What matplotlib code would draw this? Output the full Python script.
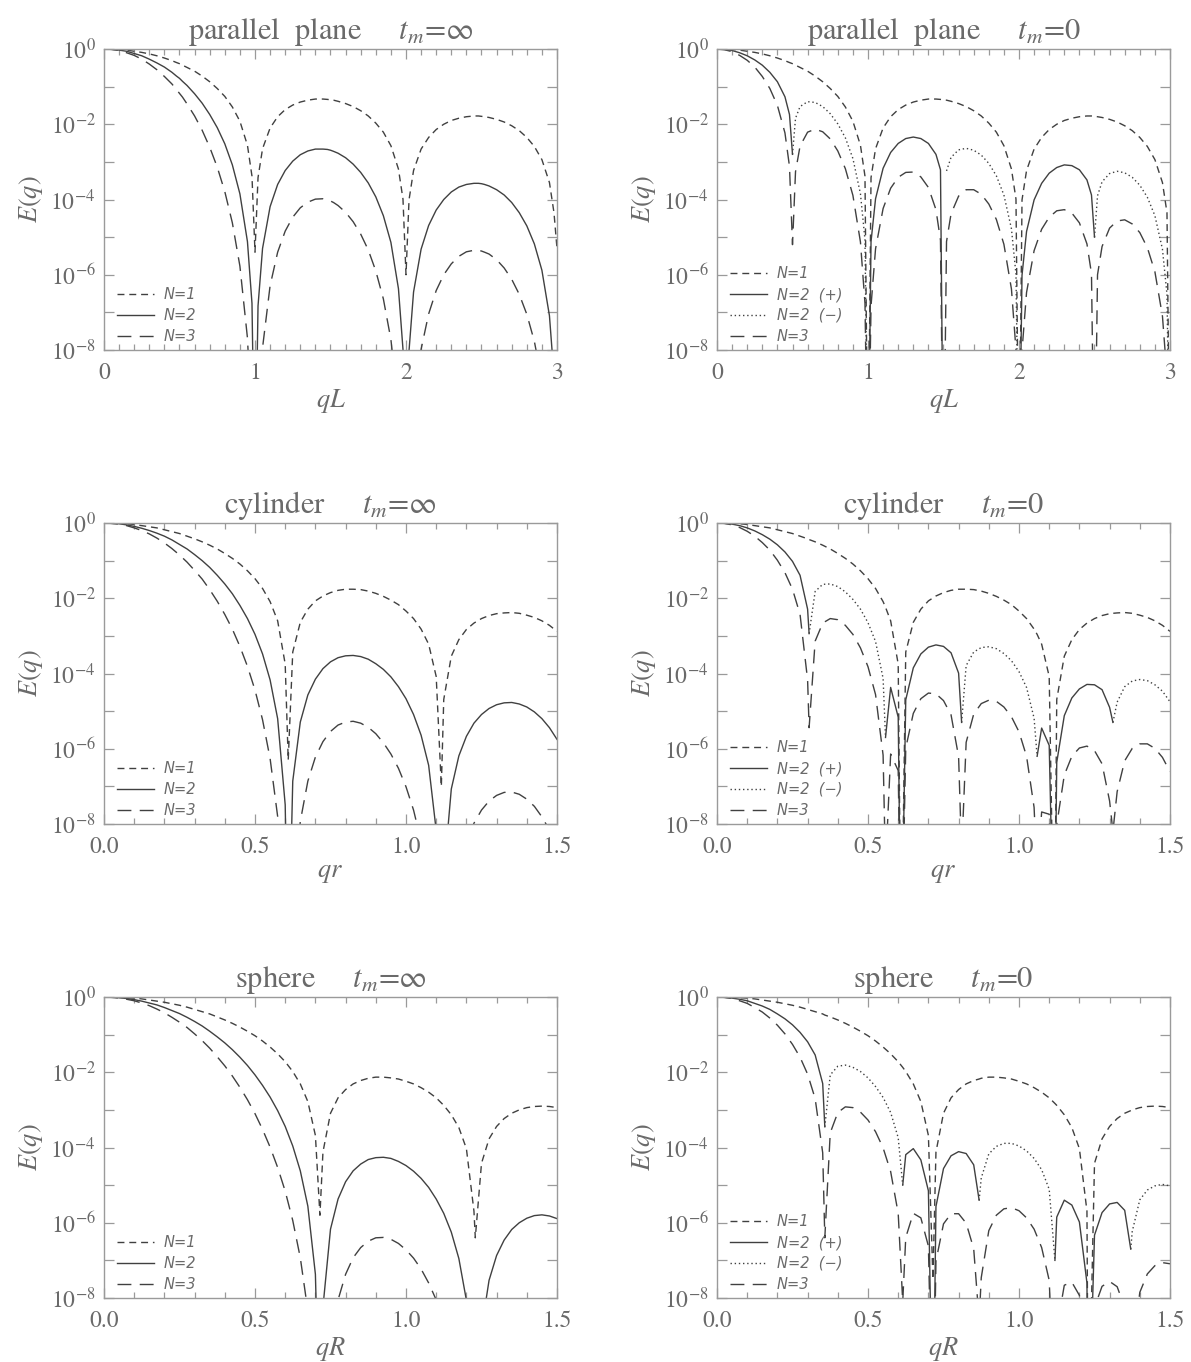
import numpy as np
import matplotlib
matplotlib.use("Agg")
import matplotlib.pyplot as plt
from matplotlib.ticker import FixedLocator, NullFormatter, LogFormatterMathtext

plt.rcParams['font.family'] = ['STIXGeneral', 'DejaVu Sans']
plt.rcParams['mathtext.fontset'] = 'stix'

# ---------------- data : log10 E(q) ----------------
# parallel plane, x = qL
qL = [0, .05, .1, .15, .2, .25, .3, .35, .4, .45, .48,
      .5, .52, .55, .6, .65, .7, .75, .8, .85, .9, .95, .98,
      1, 1.02, 1.05, 1.1, 1.15, 1.2, 1.25, 1.3, 1.35, 1.4, 1.45, 1.48,
      1.5, 1.52, 1.55, 1.6, 1.65, 1.7, 1.75, 1.8, 1.85, 1.9, 1.95, 1.98,
      2, 2.02, 2.05, 2.1, 2.15, 2.2, 2.25, 2.3, 2.35, 2.4, 2.45, 2.48,
      2.5, 2.52, 2.55, 2.6, 2.65, 2.7, 2.75, 2.8, 2.85, 2.9, 2.95, 2.98,
      3]

plane_inf_n1 = [0, -0.00, -0.01, -0.03, -0.06, -0.09, -0.13, -0.18, -0.24, -0.31, -0.36,
                -0.39, -0.43, -0.49, -0.59, -0.72, -0.87, -1.05, -1.26, -1.54, -1.92, -2.56, -3.38,
                -5.4, -3.42, -2.65, -2.10, -1.80, -1.61, -1.49, -1.41, -1.36, -1.33, -1.33, -1.34,
                -1.35, -1.36, -1.39, -1.45, -1.53, -1.64, -1.78, -1.97, -2.21, -2.57, -3.19, -3.99,
                -6.0, -4.01, -3.23, -2.66, -2.35, -2.14, -2.00, -1.90, -1.84, -1.80, -1.78, -1.78,
                -1.79, -1.80, -1.82, -1.87, -1.94, -2.04, -2.17, -2.35, -2.59, -2.94, -3.55, -4.35,
                -5.3]
plane_inf_n2 = [0, -0.01, -0.03, -0.06, -0.12, -0.18, -0.27, -0.37, -0.48, -0.62, -0.72,
                -0.78, -0.86, -0.97, -1.19, -1.44, -1.74, -2.09, -2.52, -3.08, -3.85, -5.12, -6.76,
                -12, -6.83, -5.30, -4.19, -3.60, -3.23, -2.98, -2.81, -2.71, -2.66, -2.66, -2.67,
                -2.69, -2.72, -2.77, -2.89, -3.06, -3.28, -3.56, -3.93, -4.43, -5.14, -6.37, -7.98,
                -12, -8.02, -6.46, -5.32, -4.69, -4.28, -4.00, -3.80, -3.67, -3.60, -3.57, -3.57,
                -3.58, -3.60, -3.64, -3.74, -3.88, -4.08, -4.35, -4.70, -5.18, -5.88, -7.09, -8.69,
                -12]
plane_inf_n3 = [0, -0.01, -0.04, -0.10, -0.17, -0.27, -0.40, -0.55, -0.73, -0.93, -1.08,
                -1.18, -1.28, -1.46, -1.78, -2.16, -2.61, -3.14, -3.79, -4.62, -5.77, -7.68, -10.14,
                -12, -10.25, -7.94, -6.29, -5.40, -4.84, -4.47, -4.22, -4.07, -3.99, -3.98, -4.01,
                -4.04, -4.08, -4.16, -4.34, -4.59, -4.92, -5.34, -5.90, -6.64, -7.72, -9.56, -11.98,
                -12, -12.03, -9.69, -7.98, -7.04, -6.42, -6.00, -5.71, -5.51, -5.39, -5.35, -5.35,
                -5.37, -5.40, -5.45, -5.60, -5.82, -6.12, -6.52, -7.05, -7.77, -8.82, -10.64, -13.04,
                -12]

plane_0_n1 = [0, -0.00, -0.01, -0.03, -0.06, -0.09, -0.13, -0.18, -0.24, -0.31, -0.36,
              -0.39, -0.43, -0.49, -0.59, -0.72, -0.87, -1.05, -1.26, -1.54, -1.92, -2.56, -3.38,
              -12, -3.42, -2.65, -2.10, -1.80, -1.61, -1.49, -1.41, -1.36, -1.33, -1.33, -1.34,
              -1.35, -1.36, -1.39, -1.45, -1.53, -1.64, -1.78, -1.97, -2.21, -2.57, -3.19, -3.99,
              -12, -4.01, -3.23, -2.66, -2.35, -2.14, -2.00, -1.90, -1.84, -1.80, -1.78, -1.78,
              -1.79, -1.80, -1.82, -1.87, -1.94, -2.04, -2.17, -2.35, -2.59, -2.94, -3.55, -4.35,
              -12]
plane_0_n2 = [0, -0.01, -0.04, -0.10, -0.18, -0.29, -0.43, -0.62, -0.87, -1.27, -1.74,
              -2.8, -1.84, -1.53, -1.40, -1.42, -1.53, -1.72, -1.99, -2.36, -2.91, -3.85, -5.07,
              -12, -5.12, -3.98, -3.17, -2.75, -2.51, -2.38, -2.34, -2.38, -2.51, -2.80, -3.21,
              -12, -3.24, -2.88, -2.68, -2.64, -2.69, -2.82, -3.04, -3.37, -3.88, -4.78, -5.99,
              -12, -6.01, -4.85, -4.01, -3.57, -3.30, -3.15, -3.08, -3.10, -3.21, -3.48, -3.88,
              -5.0, -3.90, -3.53, -3.31, -3.25, -3.29, -3.41, -3.62, -3.94, -4.43, -5.32, -6.52,
              -12]
# sign of the N=2 signal: +1 drawn solid, -1 dotted, 0 shared end point
plane_0_n2_sign = ([1] * 11 + [0] + [-1] * 11 + [0] + [1] * 11 + [1] + [-1] * 11
                   + [0] + [1] * 11 + [0] + [-1] * 11 + [-1])
plane_0_n3 = [0, -0.02, -0.07, -0.17, -0.30, -0.48, -0.73, -1.05, -1.50, -2.23, -3.12,
              -5.2, -3.26, -2.58, -2.21, -2.13, -2.20, -2.39, -2.71, -3.18, -3.89, -5.13, -6.76,
              -12, -6.83, -5.31, -4.24, -3.70, -3.41, -3.28, -3.27, -3.40, -3.68, -4.27, -5.08,
              -12, -5.12, -4.38, -3.91, -3.74, -3.74, -3.86, -4.12, -4.53, -5.19, -6.38, -7.99,
              -12, -8.02, -6.47, -5.36, -4.79, -4.47, -4.30, -4.27, -4.36, -4.62, -5.18, -5.97,
              -12, -6.00, -5.25, -4.76, -4.57, -4.54, -4.65, -4.88, -5.28, -5.92, -7.10, -8.70,
              -12]

# cylinder, x = qr
qr_inf = [0, .025, .05, .075, .1, .125, .15, .175, .2, .225,
          .25, .275, .3, .325, .35, .375, .4, .425, .45, .475,
          .5, .525, .55, .575, .6, .61, .625, .65, .675, .7, .725,
          .75, .775, .8, .825, .85, .875, .9, .925, .95, .975,
          1, 1.025, 1.05, 1.075, 1.1, 1.117, 1.125, 1.15, 1.175, 1.2, 1.225,
          1.25, 1.275, 1.3, 1.325, 1.35, 1.375, 1.4, 1.425, 1.45, 1.475,
          1.5]
cyl_inf_n1 = [0, -0.00, -0.01, -0.02, -0.04, -0.07, -0.10, -0.13, -0.18, -0.23,
              -0.28, -0.35, -0.42, -0.50, -0.59, -0.69, -0.81, -0.94, -1.09, -1.27,
              -1.48, -1.74, -2.09, -2.60, -3.75, -6.3, -3.43, -2.64, -2.29, -2.07, -1.94,
              -1.85, -1.79, -1.76, -1.76, -1.77, -1.81, -1.87, -1.95, -2.05, -2.17,
              -2.34, -2.54, -2.82, -3.22, -4.08, -7.0, -4.69, -3.54, -3.10, -2.83, -2.66,
              -2.54, -2.46, -2.41, -2.39, -2.38, -2.40, -2.45, -2.51, -2.60, -2.72,
              -2.88]
cyl_inf_n2 = [0, -0.01, -0.02, -0.05, -0.09, -0.14, -0.20, -0.27, -0.35, -0.45,
              -0.57, -0.69, -0.84, -1.00, -1.18, -1.39, -1.62, -1.88, -2.19, -2.54,
              -2.96, -3.48, -4.17, -5.20, -7.49, -12, -6.86, -5.29, -4.57, -4.15, -3.87,
              -3.69, -3.58, -3.53, -3.52, -3.55, -3.62, -3.74, -3.89, -4.09, -4.35,
              -4.67, -5.09, -5.64, -6.44, -8.17, -12, -9.39, -7.07, -6.19, -5.67, -5.32,
              -5.09, -4.93, -4.83, -4.78, -4.77, -4.81, -4.89, -5.02, -5.20, -5.44,
              -5.75]
cyl_inf_n3 = [0, -0.01, -0.03, -0.07, -0.13, -0.20, -0.29, -0.40, -0.53, -0.68,
              -0.85, -1.04, -1.26, -1.49, -1.77, -2.08, -2.43, -2.82, -3.28, -3.81,
              -4.44, -5.23, -6.26, -7.80, -11.24, -12, -10.30, -7.93, -6.86, -6.22, -5.81,
              -5.54, -5.37, -5.29, -5.27, -5.32, -5.43, -5.60, -5.84, -6.14, -6.52,
              -7.01, -7.63, -8.46, -9.67, -12.25, -12, -14.08, -10.61, -9.29, -8.50, -7.98,
              -7.63, -7.39, -7.24, -7.16, -7.15, -7.21, -7.34, -7.53, -7.81, -8.16,
              -8.63]

qr_0 = [0, .025, .05, .075, .1, .125, .15, .175, .2, .225,
        .25, .275, .3, .305, .325, .35, .375, .4, .425, .45, .475,
        .5, .525, .55, .558, .575, .6, .61, .625, .65, .675, .7, .725,
        .75, .775, .8, .81, .825, .85, .875, .9, .925, .95, .975,
        1, 1.025, 1.05, 1.06, 1.075, 1.1, 1.117, 1.125, 1.15, 1.175, 1.2, 1.225,
        1.25, 1.275, 1.3, 1.311, 1.325, 1.35, 1.375, 1.4, 1.425, 1.45, 1.475,
        1.5]
cyl_0_n1 = [0, -0.00, -0.01, -0.02, -0.04, -0.07, -0.10, -0.13, -0.18, -0.23,
            -0.28, -0.35, -0.42, -0.44, -0.50, -0.59, -0.69, -0.81, -0.94, -1.09, -1.27,
            -1.48, -1.74, -2.09, -2.24, -2.60, -3.75, -12, -3.43, -2.64, -2.29, -2.07, -1.94,
            -1.85, -1.79, -1.76, -1.76, -1.76, -1.77, -1.81, -1.87, -1.95, -2.05, -2.17,
            -2.34, -2.54, -2.82, -2.96, -3.22, -4.08, -12, -4.69, -3.54, -3.10, -2.83, -2.66,
            -2.54, -2.46, -2.41, -2.40, -2.39, -2.38, -2.40, -2.45, -2.51, -2.60, -2.72,
            -2.88]
cyl_0_n2 = [0, -0.01, -0.03, -0.07, -0.13, -0.21, -0.31, -0.43, -0.58, -0.77,
            -1.02, -1.39, -2.29, -2.94, -1.82, -1.63, -1.62, -1.69, -1.83, -2.03, -2.29,
            -2.65, -3.15, -4.13, -5.7, -4.37, -5.16, -12, -4.70, -3.85, -3.48, -3.30, -3.24,
            -3.28, -3.45, -3.99, -5.3, -3.79, -3.43, -3.31, -3.29, -3.34, -3.47, -3.66,
            -3.95, -4.37, -5.19, -6.2, -5.45, -5.91, -12, -6.36, -5.12, -4.65, -4.41, -4.29,
            -4.30, -4.43, -4.90, -5.3, -4.76, -4.35, -4.20, -4.16, -4.19, -4.30, -4.47,
            -4.75]
cyl_0_n2_sign = ([1] * 10 + [1] * 3 + [0] + [-1] * 7 + [-1] * 3 + [0] + [1] * 8
                 + [1] * 3 + [0] + [-1] * 7 + [-1] * 3 + [0] + [1] * 8
                 + [1] * 3 + [0] + [-1] * 7 + [-1])
cyl_0_n3 = [0, -0.01, -0.05, -0.12, -0.22, -0.35, -0.52, -0.72, -0.99, -1.32,
            -1.76, -2.43, -4.17, -5.44, -3.14, -2.66, -2.54, -2.57, -2.72, -2.96, -3.32,
            -3.82, -4.56, -6.17, -9.2, -6.14, -6.58, -12, -5.98, -5.06, -4.67, -4.52, -4.54,
            -4.72, -5.10, -6.21, -8.8, -5.83, -5.08, -4.80, -4.71, -4.74, -4.89, -5.15,
            -5.55, -6.20, -7.56, -9.4, -7.68, -7.74, -12, -8.02, -6.70, -6.20, -5.98, -5.93,
            -6.05, -6.40, -7.39, -8.2, -7.14, -6.32, -5.99, -5.87, -5.87, -5.99, -6.23,
            -6.61]

# sphere, x = qR
qR_inf = [0, .025, .05, .075, .1, .125, .15, .175, .2, .225,
          .25, .275, .3, .325, .35, .375, .4, .425, .45, .475,
          .5, .525, .55, .575, .6, .625, .65, .675, .7, .715, .725,
          .75, .775, .8, .825, .85, .875, .9, .925, .95, .975,
          1, 1.025, 1.05, 1.075, 1.1, 1.125, 1.15, 1.175, 1.2, 1.225, 1.2295,
          1.25, 1.275, 1.3, 1.325, 1.35, 1.375, 1.4, 1.425, 1.45, 1.475,
          1.5]
sph_inf_n1 = [0, -0.00, -0.01, -0.02, -0.03, -0.05, -0.08, -0.11, -0.14, -0.18,
              -0.22, -0.27, -0.33, -0.39, -0.45, -0.53, -0.61, -0.70, -0.80, -0.91,
              -1.03, -1.17, -1.33, -1.51, -1.72, -1.98, -2.31, -2.78, -3.68, -5.8, -4.12,
              -3.09, -2.68, -2.46, -2.31, -2.22, -2.16, -2.13, -2.13, -2.15, -2.18,
              -2.24, -2.31, -2.41, -2.53, -2.68, -2.88, -3.13, -3.47, -4.03, -5.69, -6.4,
              -4.42, -3.77, -3.44, -3.23, -3.09, -3.00, -2.94, -2.91, -2.90, -2.91,
              -2.94]
sph_inf_n2 = [0, -0.00, -0.02, -0.04, -0.07, -0.11, -0.16, -0.21, -0.28, -0.36,
              -0.44, -0.54, -0.65, -0.77, -0.91, -1.06, -1.22, -1.40, -1.60, -1.82,
              -2.07, -2.35, -2.66, -3.02, -3.44, -3.96, -4.62, -5.56, -7.37, -12, -8.24,
              -6.17, -5.37, -4.91, -4.62, -4.44, -4.32, -4.27, -4.26, -4.29, -4.37,
              -4.48, -4.63, -4.82, -5.06, -5.37, -5.75, -6.25, -6.95, -8.06, -11.39, -12,
              -8.83, -7.53, -6.87, -6.46, -6.18, -6.00, -5.88, -5.81, -5.79, -5.82,
              -5.89]
sph_inf_n3 = [0, -0.01, -0.03, -0.06, -0.10, -0.16, -0.23, -0.32, -0.42, -0.54,
              -0.67, -0.81, -0.98, -1.16, -1.36, -1.59, -1.83, -2.10, -2.40, -2.73,
              -3.10, -3.52, -3.99, -4.53, -5.16, -5.94, -6.93, -8.34, -11.05, -12, -12.35,
              -9.26, -8.05, -7.37, -6.93, -6.66, -6.49, -6.40, -6.39, -6.44, -6.55,
              -6.72, -6.94, -7.23, -7.60, -8.05, -8.63, -9.38, -10.42, -12.09, -17.08, -12,
              -13.25, -11.30, -10.31, -9.69, -9.27, -8.99, -8.81, -8.72, -8.69, -8.73,
              -8.83]

qR_0 = [0, .025, .05, .075, .1, .125, .15, .175, .2, .225,
        .25, .275, .3, .325, .35, .357, .375, .4, .425, .45, .475,
        .5, .525, .55, .575, .6, .615, .625, .65, .675, .7, .715, .725,
        .75, .775, .8, .825, .85, .868, .875, .9, .925, .95, .975,
        1, 1.025, 1.05, 1.075, 1.1, 1.119, 1.125, 1.15, 1.175, 1.2, 1.225, 1.2295,
        1.25, 1.275, 1.3, 1.325, 1.35, 1.37, 1.375, 1.4, 1.425, 1.45, 1.475,
        1.5]
sph_0_n1 = [0, -0.00, -0.01, -0.02, -0.03, -0.05, -0.08, -0.11, -0.14, -0.18,
            -0.22, -0.27, -0.33, -0.39, -0.45, -0.48, -0.53, -0.61, -0.70, -0.80, -0.91,
            -1.03, -1.17, -1.33, -1.51, -1.72, -1.87, -1.98, -2.31, -2.78, -3.68, -7.5, -4.12,
            -3.09, -2.68, -2.46, -2.31, -2.22, -2.18, -2.16, -2.13, -2.13, -2.15, -2.18,
            -2.24, -2.31, -2.41, -2.53, -2.68, -2.83, -2.88, -3.13, -3.47, -4.03, -5.69, -12,
            -4.42, -3.77, -3.44, -3.23, -3.09, -3.02, -3.00, -2.94, -2.91, -2.90, -2.91,
            -2.94]
sph_0_n2 = [0, -0.01, -0.03, -0.06, -0.10, -0.17, -0.24, -0.33, -0.45, -0.58,
            -0.74, -0.94, -1.19, -1.54, -2.30, -3.45, -2.07, -1.84, -1.81, -1.87, -1.98,
            -2.15, -2.38, -2.67, -3.07, -3.74, -5.0, -4.19, -4.03, -4.33, -5.15, -12, -5.57,
            -4.56, -4.22, -4.11, -4.16, -4.46, -5.4, -4.81, -4.17, -3.97, -3.89, -3.89,
            -3.96, -4.09, -4.29, -4.59, -5.11, -7.0, -5.85, -5.40, -5.53, -5.98, -7.60, -12,
            -6.33, -5.73, -5.50, -5.46, -5.67, -6.7, -6.23, -5.39, -5.13, -5.02, -4.98,
            -5.02]
sph_0_n2_sign = ([1] * 10 + [1] * 5 + [0] + [-1] * 5 + [-1] * 5 + [0] + [1] * 6
                 + [1] * 5 + [0] + [-1] * 5 + [-1] * 5 + [0] + [1] * 6
                 + [1] * 5 + [0] + [-1] * 5 + [-1])
sph_0_n3 = [0, -0.01, -0.04, -0.10, -0.17, -0.28, -0.40, -0.56, -0.75, -0.98,
            -1.26, -1.60, -2.05, -2.70, -4.14, -6.4, -3.61, -3.07, -2.92, -2.94, -3.06,
            -3.27, -3.58, -4.01, -4.64, -5.75, -8.1, -6.39, -5.75, -5.87, -6.62, -12, -7.02,
            -6.03, -5.76, -5.76, -6.01, -6.69, -8.6, -7.46, -6.21, -5.80, -5.63, -5.60,
            -5.68, -5.87, -6.17, -6.66, -7.53, -11.2, -8.82, -7.66, -7.58, -7.93, -9.51, -12,
            -8.25, -7.69, -7.56, -7.70, -8.25, -10.4, -9.47, -7.85, -7.36, -7.14, -7.06,
            -7.09]

# ---------------- drawing ----------------
FRAME = '#9a9a9a'
TEXT = '#6a6a6a'
INK = '#404040'
LS_N1 = (0, (5, 3.5))
LS_N3 = (0, (10, 6))
LS_DOT = (0, (1, 2))

fig = plt.figure(figsize=(11.91, 13.62), dpi=100)


def panel(x0, y0, w=453, h=301):
    return fig.add_axes([x0 / 1191, 1 - (y0 + h) / 1362, w / 1191, h / 1362])


def style(ax, xmax, xlabel, title):
    ax.set_yscale('log')
    ax.set_ylim(1e-8, 1)
    ax.set_xlim(0, xmax)
    ax.yaxis.set_major_locator(FixedLocator([1e-8, 1e-6, 1e-4, 1e-2, 1]))
    ax.yaxis.set_minor_locator(FixedLocator([1e-7, 1e-5, 1e-3, 1e-1]))
    ax.yaxis.set_major_formatter(LogFormatterMathtext())
    ax.yaxis.set_minor_formatter(NullFormatter())
    if xmax == 3:
        ax.set_xticks([0, 1, 2, 3])
        ax.set_xticklabels(['0', '1', '2', '3'])
    else:
        ax.set_xticks([0, 0.5, 1.0, 1.5])
        ax.set_xticklabels(['0.0', '0.5', '1.0', '1.5'])
    ax.xaxis.set_minor_locator(FixedLocator(np.arange(0, xmax + 1e-9, 0.1)))
    ax.tick_params(which='both', direction='in', top=True, right=True,
                   color=FRAME, labelcolor=TEXT, labelsize=17, width=0.9)
    ax.tick_params(axis='y', which='both', length=7, pad=6)
    ax.tick_params(axis='x', which='major', length=7, pad=9)
    ax.tick_params(axis='x', which='minor', length=4.5)
    for s in ax.spines.values():
        s.set_color(FRAME)
        s.set_linewidth(1.0)
    ax.set_xlabel(xlabel, fontsize=19, color=TEXT, labelpad=2)
    ax.set_ylabel(r'$E(q)$', fontsize=19, color=TEXT, labelpad=4)
    ax.set_title(title, fontsize=22, color=TEXT, pad=7)


def leg(ax):
    ax.legend(loc='lower left', bbox_to_anchor=(0.018, 0.004), frameon=False,
              handlelength=2.5, handletextpad=0.7, labelspacing=0.4,
              borderpad=0.35, borderaxespad=0.0, labelcolor=TEXT,
              prop={'family': 'DejaVu Sans', 'style': 'italic', 'size': 10.5})


def draw_inf(ax, x, n1, n2, n3):
    ax.plot(x, 10 ** np.array(n1), color=INK, lw=1.0, ls=LS_N1, label='N=1')
    ax.plot(x, 10 ** np.array(n2), color=INK, lw=1.0, ls='-', label='N=2')
    ax.plot(x, 10 ** np.array(n3), color=INK, lw=1.0, ls=LS_N3, label='N=3')
    leg(ax)


def draw_zero(ax, x, n1, n2, sign, n3):
    v = np.array(n2, dtype=float)
    s = np.array(sign)
    plus = np.where(s >= 0, v, np.nan)
    minus = np.where(s <= 0, v, np.nan)
    ax.plot(x, 10 ** np.array(n1), color=INK, lw=1.0, ls=LS_N1, label='N=1')
    ax.plot(x, 10 ** plus, color=INK, lw=1.0, ls='-', label='N=2  (+)')
    ax.plot(x, 10 ** minus, color=INK, lw=1.0, ls=LS_DOT, label='N=2  (\u2212)')
    ax.plot(x, 10 ** np.array(n3), color=INK, lw=1.0, ls=LS_N3, label='N=3')
    leg(ax)


LX, RX = 104, 717
ROWS = [49, 523, 997]

ax = panel(LX, ROWS[0])
draw_inf(ax, qL, plane_inf_n1, plane_inf_n2, plane_inf_n3)
style(ax, 3, r'$qL$', 'parallel  plane     $t_m$=\u221e')

ax = panel(RX, ROWS[0])
draw_zero(ax, qL, plane_0_n1, plane_0_n2, plane_0_n2_sign, plane_0_n3)
style(ax, 3, r'$qL$', r'parallel  plane     $t_m$=$\mathit{0}$')

ax = panel(LX, ROWS[1])
draw_inf(ax, qr_inf, cyl_inf_n1, cyl_inf_n2, cyl_inf_n3)
style(ax, 1.5, r'$qr$', 'cylinder     $t_m$=\u221e')

ax = panel(RX, ROWS[1])
draw_zero(ax, qr_0, cyl_0_n1, cyl_0_n2, cyl_0_n2_sign, cyl_0_n3)
style(ax, 1.5, r'$qr$', r'cylinder     $t_m$=$\mathit{0}$')

ax = panel(LX, ROWS[2])
draw_inf(ax, qR_inf, sph_inf_n1, sph_inf_n2, sph_inf_n3)
style(ax, 1.5, r'$qR$', 'sphere     $t_m$=\u221e')

ax = panel(RX, ROWS[2])
draw_zero(ax, qR_0, sph_0_n1, sph_0_n2, sph_0_n2_sign, sph_0_n3)
style(ax, 1.5, r'$qR$', r'sphere     $t_m$=$\mathit{0}$')

fig.savefig('out.png', dpi=100, facecolor='white')
